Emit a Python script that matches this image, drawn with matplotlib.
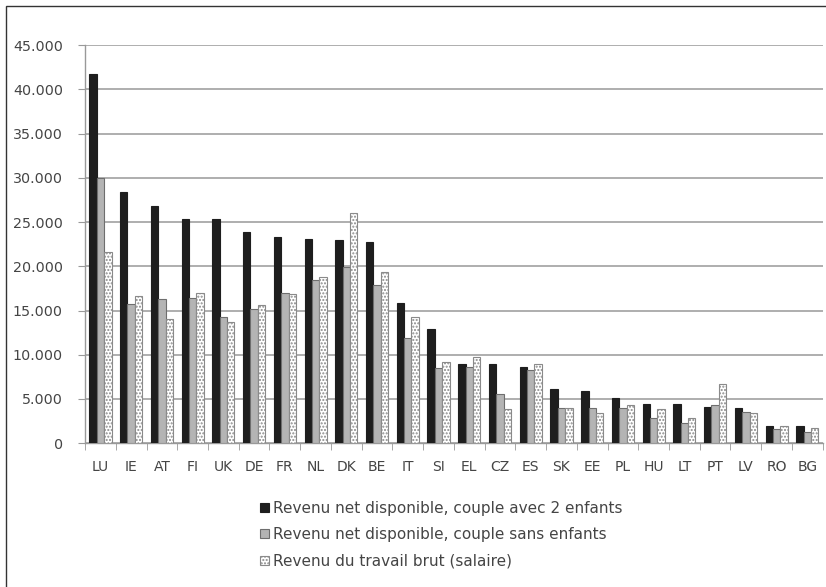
import matplotlib.pyplot as plt
import matplotlib.patches as mpatches
from matplotlib.ticker import FuncFormatter
import numpy as np

# data
countries = ["LU", "IE", "AT", "FI", "UK", "DE", "FR", "NL", "DK", "BE", "IT", "SI",
             "EL", "CZ", "ES", "SK", "EE", "PL", "HU", "LT", "PT", "LV", "RO", "BG"]
avec_enfants = [41800, 28350, 26800, 25400, 25300, 23870, 23340, 23080, 22930, 22740, 15810, 12910,
                8960, 8920, 8590, 6170, 5940, 5120, 4440, 4410, 4140, 3950, 1990, 1950]
sans_enfants = [29950, 15740, 16270, 16380, 14230, 15140, 17020, 18450, 19950, 17850, 11860, 8470,
                8590, 5540, 8280, 4020, 4020, 4020, 2890, 2260, 4330, 3500, 1580, 1240]
salaire = [21650, 16680, 14000, 16940, 13670, 15660, 16830, 18790, 26020, 19320, 14300, 9150,
           9780, 3840, 8960, 4020, 3460, 4330, 3910, 2820, 6700, 3420, 1920, 1760]
labels = ["Revenu net disponible, couple avec 2 enfants",
          "Revenu net disponible, couple sans enfants",
          "Revenu du travail brut (salaire)"]

plt.rcParams['font.family'] = ['DejaVu Sans']
plt.rcParams['hatch.color'] = '#8a8a8a'
plt.rcParams['hatch.linewidth'] = 1.0

fig = plt.figure(figsize=(8.26, 5.87), dpi=100)
ax = fig.add_axes([0.103, 0.245, 0.893, 0.678])

x = np.arange(len(countries))
w = 0.24
ax.bar(x - w, avec_enfants, w, color='#1e1e1e', edgecolor='#1e1e1e', linewidth=0.8,
       label=labels[0], zorder=3)
ax.bar(x, sans_enfants, w, color='#b4b4b4', edgecolor='#6e6e6e', linewidth=0.8,
       label=labels[1], zorder=3)
ax.bar(x + w, salaire, w, color='white', edgecolor='#8a8a8a', linewidth=0.8, hatch='.....',
       label=labels[2], zorder=3)

ax.set_xlim(-0.5, len(countries) - 0.5)
ax.set_ylim(0, 45000)
ax.set_yticks(range(0, 45001, 5000))
ax.yaxis.set_major_formatter(FuncFormatter(lambda v, p: f"{int(v):,}".replace(",", ".")))
ax.set_xticks(x)
ax.set_xticklabels(countries)
ax.set_xticks(np.arange(-0.5, len(countries), 1), minor=True)

ax.grid(axis='y', color='#a8a8a8', linewidth=1.3, zorder=0)
ax.tick_params(axis='x', which='major', length=0, pad=12, labelsize=10, labelcolor='#454545')
ax.tick_params(axis='x', which='minor', length=5, color='#999999', direction='out')
ax.tick_params(axis='y', length=5, color='#999999', pad=11, labelsize=10.3, labelcolor='#454545')
for s in ['top', 'right']:
    ax.spines[s].set_visible(False)
for s in ['left', 'bottom']:
    ax.spines[s].set_color('#999999')
    ax.spines[s].set_linewidth(1.0)

ax.legend(loc='upper left', bbox_to_anchor=(0.302, 0.165), bbox_transform=fig.transFigure,
          frameon=False, fontsize=11, handlelength=0.55, handleheight=0.55,
          handletextpad=0.3, labelspacing=0.75, borderpad=0.2, labelcolor='#454545')

# outer frame (only left and top edges show in the crop)
fig.patches.append(mpatches.Rectangle((6 / 826, -0.1), 1.2, 1.1 - 6 / 587, fill=False,
                                      edgecolor='#333333', linewidth=1.0,
                                      transform=fig.transFigure, figure=fig))

fig.savefig("out.png", dpi=100)
